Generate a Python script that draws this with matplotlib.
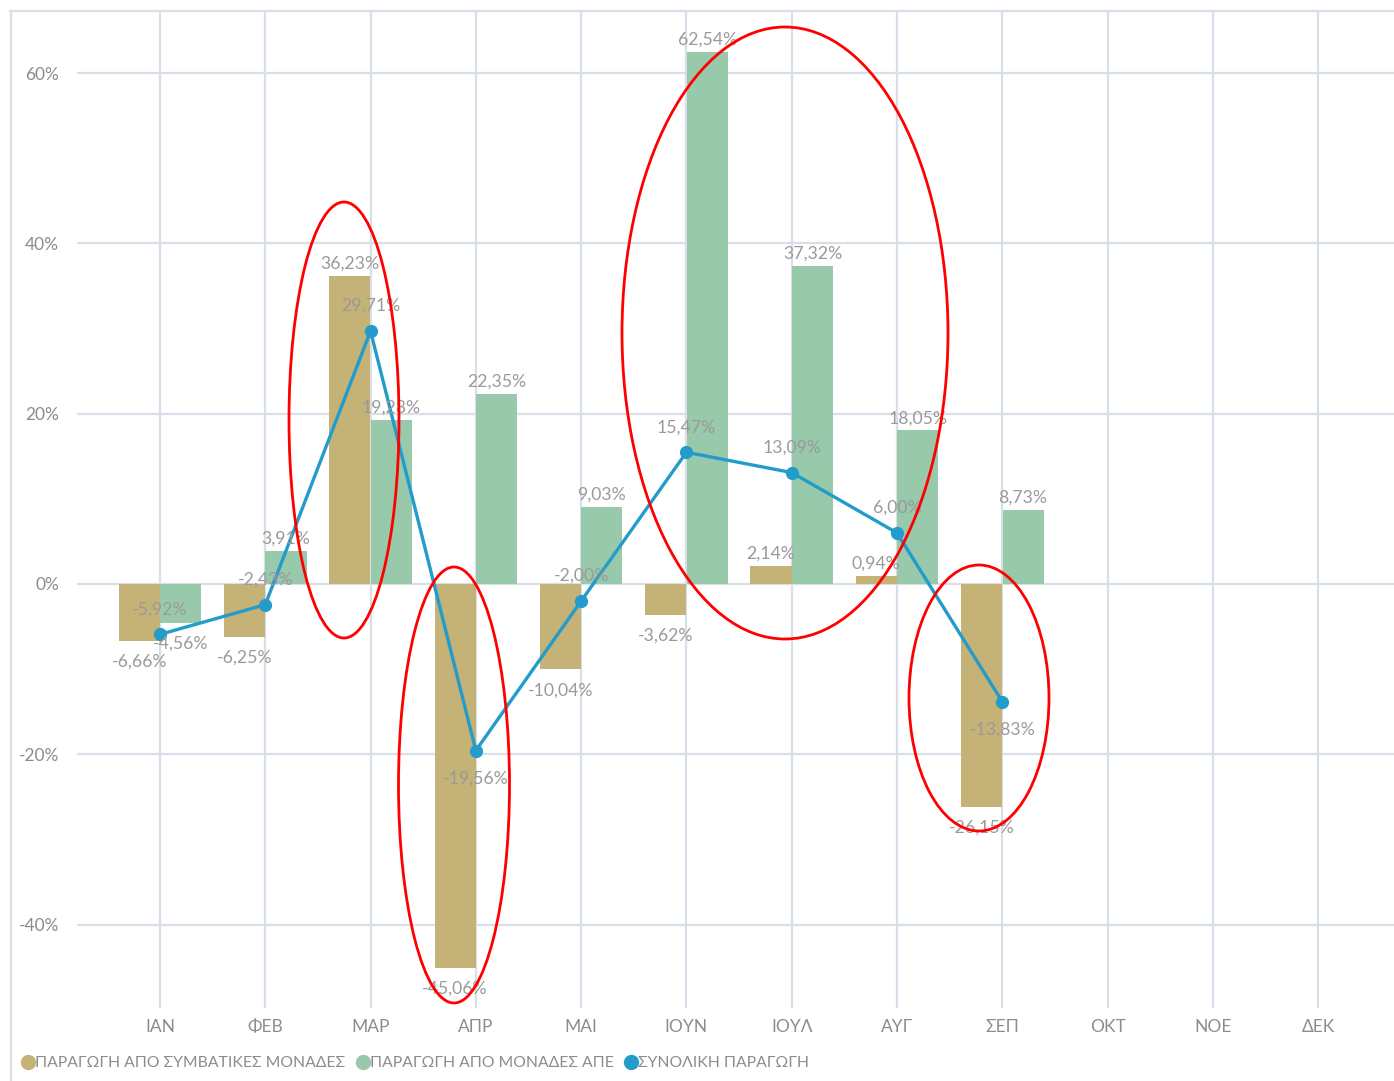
import matplotlib
matplotlib.use("Agg")
import matplotlib.pyplot as plt
import numpy as np
from matplotlib.patches import Ellipse
from matplotlib.lines import Line2D
from matplotlib.ticker import FixedLocator, FuncFormatter

plt.rcParams['font.family'] = ['Lato', 'DejaVu Sans']

months = ["ΙΑΝ", "ΦΕΒ", "ΜΑΡ", "ΑΠΡ", "ΜΑΙ", "ΙΟΥΝ", "ΙΟΥΛ", "ΑΥΓ", "ΣΕΠ", "ΟΚΤ", "ΝΟΕ", "ΔΕΚ"]
conventional = [-6.66, -6.25, 36.23, -45.06, -10.04, -3.62, 2.14, 0.94, -26.15]
renewables = [-4.56, 3.91, 19.28, 22.35, 9.03, 62.54, 37.32, 18.05, 8.73]
total = [-5.92, -2.43, 29.71, -19.56, -2.00, 15.47, 13.09, 6.00, -13.83]
series_names = ["ΠΑΡΑΓΩΓΗ ΑΠΟ ΣΥΜΒΑΤΙΚΕΣ ΜΟΝΑΔΕΣ", "ΠΑΡΑΓΩΓΗ ΑΠΟ ΜΟΝΑΔΕΣ ΑΠΕ", "ΣΥΝΟΛΙΚΗ ΠΑΡΑΓΩΓΗ"]
total_label_below = [3, 8]

C_TAN = "#C4B276"
C_GREEN = "#98C9AB"
C_BLUE = "#239CCB"
C_GRID = "#D9DFE8"
C_TXT = "#9A9A9A"

W, H = 1394, 1081
fig = plt.figure(figsize=(W / 100, H / 100), dpi=100)
ax = fig.add_axes([77 / W, (H - 1008) / H, (W - 77) / W, (1008 - 11) / H])

x = np.arange(len(conventional))
bw = 0.39
off = 0.197
ax.bar(x - off, conventional, bw, color=C_TAN, zorder=2)
ax.bar(x + off, renewables, bw, color=C_GREEN, zorder=2)
ax.plot(x, total, color=C_BLUE, lw=2.4, marker='o', ms=8.5, zorder=4)

ax.set_xlim(-0.788, 11.72)
ax.set_ylim(-49.8, 67.3)

ax.xaxis.set_major_locator(FixedLocator(range(len(months))))
ax.set_xticklabels(months)
ax.yaxis.set_major_locator(FixedLocator([-40, -20, 0, 20, 40, 60]))
ax.yaxis.set_major_formatter(FuncFormatter(lambda v, p: f"{int(v)}%"))
ax.tick_params(axis='both', length=0, colors="#8C8C8C", labelsize=12.5)
ax.tick_params(axis='x', pad=8)
ax.tick_params(axis='y', pad=13)
ax.grid(True, color=C_GRID, lw=1.6, zorder=0)
ax.set_axisbelow(True)
for s in ['left', 'right', 'bottom', 'top']:
    ax.spines[s].set_visible(False)

def fmt(v):
    return f"{v:.2f}%".replace('.', ',')

fs = 12.7
for i, v in enumerate(conventional):
    if v >= 0:
        ax.annotate(fmt(v), (i - off, v), xytext=(0, 3), textcoords='offset points',
                    ha='center', va='bottom', fontsize=fs, color=C_TXT, zorder=5)
    else:
        ax.annotate(fmt(v), (i - off, v), xytext=(0, -15), textcoords='offset points',
                    ha='center', va='center', fontsize=fs, color=C_TXT, zorder=5)
for i, v in enumerate(renewables):
    if v >= 0:
        ax.annotate(fmt(v), (i + off, v), xytext=(0, 3), textcoords='offset points',
                    ha='center', va='bottom', fontsize=fs, color=C_TXT, zorder=5)
    else:
        ax.annotate(fmt(v), (i + off, v), xytext=(0, -15), textcoords='offset points',
                    ha='center', va='center', fontsize=fs, color=C_TXT, zorder=5)
for i, v in enumerate(total):
    dy = -20 if i in total_label_below else 18
    ax.annotate(fmt(v), (i, v), xytext=(0, dy), textcoords='offset points',
                ha='center', va='center', fontsize=fs, color=C_TXT, zorder=5)

# outer frame lines
fig.add_artist(Line2D([10 / W, 1], [1 - 11 / H] * 2, transform=fig.transFigure, color=C_GRID, lw=1.6))
fig.add_artist(Line2D([11 / W, 11 / W], [0, 1 - 11 / H], transform=fig.transFigure, color=C_GRID, lw=1.6))

# red highlight ellipses (pixel coords)
for cx, cy, ew, eh in [(344, 420, 110, 436), (454, 785, 111, 436), (785, 333, 326, 612), (979, 698, 140, 266)]:
    fig.add_artist(Ellipse((cx / W, 1 - cy / H), ew / W, eh / H, transform=fig.transFigure,
                           fill=False, edgecolor='#FF0000', lw=2, zorder=10))

handles = [Line2D([], [], ls='none', marker='o', ms=10, color=c) for c in (C_TAN, C_GREEN, C_BLUE)]
leg = fig.legend(handles, series_names, loc='center left', bbox_to_anchor=(19 / W, 1 - 1063 / H),
                 ncol=3, frameon=False, fontsize=11.3, handletextpad=-0.15, columnspacing=0.5,
                 handlelength=1.2, borderaxespad=0, borderpad=0)
for t in leg.get_texts():
    t.set_color("#8C8C8C")

fig.savefig("out.png", dpi=100)
